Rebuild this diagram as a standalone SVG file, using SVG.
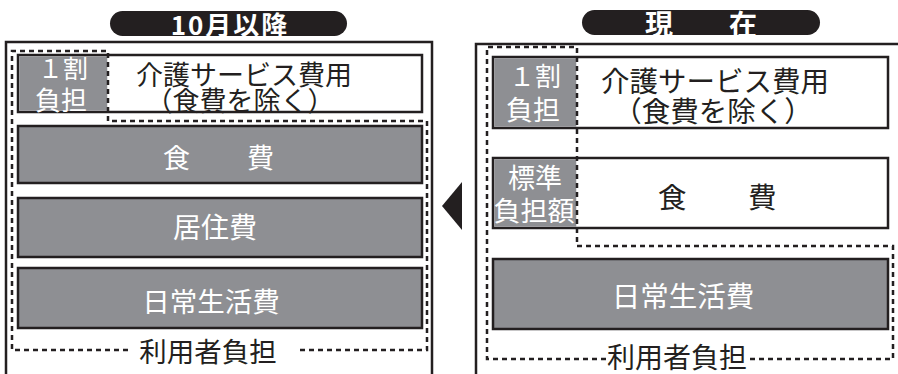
<svg xmlns="http://www.w3.org/2000/svg" width="898" height="374" viewBox="0 0 898 374">
<style>
.frame{fill:none;stroke:#231f20;stroke-width:2.5}
.dash{fill:none;stroke:#231f20;stroke-width:2.5;stroke-dasharray:5 4}
.box{stroke:#231f20;stroke-width:2.5}
.gray{fill:#8e8f93}
.white{fill:#fff}
.t{font-family:"Noto Sans CJK JP","Noto Sans",sans-serif;text-anchor:middle;dominant-baseline:central}
.tw{fill:#fff}
.tb{fill:#231f20}
.pill{fill:#231f20}
.pt{font-family:"Noto Sans CJK JP","Noto Sans",sans-serif;text-anchor:middle;dominant-baseline:central;fill:#fff;font-weight:bold}
</style>
<!-- left panel -->
<g id="left-title">
<rect class="pill" x="110" y="11" width="237" height="25" rx="12.5"/>
<text class="pt" x="230" y="23.5" font-size="26" letter-spacing="2">10月以降</text>
</g>
<g id="left-frame">
<path class="frame" d="M6,374 V42 H432 V374"/>
</g>
<g id="left-care">
<rect class="box white" x="18" y="55" width="404" height="57"/>
<rect class="gray" x="19.25" y="56.25" width="88" height="54.5"/>
<text class="t tw" x="63" y="67" font-size="25">１割</text>
<text class="t tw" x="61" y="98" font-size="26">負担</text>
<text class="t tb" x="244" y="73" font-size="27">介護サービス費用</text>
<text class="t tb" x="240" y="99" font-size="27">（食費を除く）</text>
</g>
<g id="left-food">
<rect class="box gray" x="18" y="126" width="404" height="57"/>
<text class="t tw" x="219" y="156" font-size="27" letter-spacing="1">食　　費</text>
</g>
<g id="left-housing">
<rect class="box gray" x="18" y="198" width="404" height="59"/>
<text class="t tw" x="215" y="226" font-size="28">居住費</text>
</g>
<g id="left-daily">
<rect class="box gray" x="18" y="268" width="404" height="60"/>
<text class="t tw" x="211" y="300" font-size="27.5">日常生活費</text>
</g>
<g id="left-user">
<text class="t tb" x="208" y="350" font-size="27.5">利用者負担</text>
</g>
<!-- right panel -->
<g id="right-title">
<rect class="pill" x="582" y="10" width="238" height="25" rx="12.5"/>
<text class="pt" x="701" y="22.5" font-size="28">現　　在</text>
</g>
<g id="right-frame">
<path class="frame" d="M476,374 V44 H898"/>
</g>
<g id="right-care">
<rect class="box white" x="493" y="57" width="395" height="71"/>
<rect class="gray" x="494.25" y="58.25" width="82" height="68.5"/>
<text class="t tw" x="535" y="74" font-size="26">１割</text>
<text class="t tw" x="533" y="108" font-size="27">負担</text>
<text class="t tb" x="715" y="79" font-size="28.5">介護サービス費用</text>
<text class="t tb" x="713" y="109" font-size="28.5">（食費を除く）</text>
</g>
<g id="right-food">
<rect class="box white" x="493" y="158" width="395" height="70"/>
<rect class="gray" x="494.25" y="159.25" width="82" height="67.5"/>
<text class="t tw" x="535" y="176" font-size="27">標準</text>
<text class="t tw" x="534" y="209" font-size="27">負担額</text>
<text class="t tb" x="718" y="195" font-size="28.5" letter-spacing="1.5">食　　費</text>
</g>
<g id="right-daily">
<rect class="box gray" x="493" y="259" width="395" height="70"/>
<text class="t tw" x="683" y="294" font-size="28.5">日常生活費</text>
</g>
<g id="right-user">
<text class="t tb" x="677" y="356" font-size="28">利用者負担</text>
</g>
<!-- connectors / burden outlines -->
<g id="connectors">
<path class="dash" d="M128,350 H12 V51 H108 V121 H427 V350 H297"/>
<path class="dash" d="M606,359 H487 V47 H577 V246 H893 V359 H749"/>
<polygon points="442,206 462,182 462,230" fill="#231f20"/>
</g>
</svg>
